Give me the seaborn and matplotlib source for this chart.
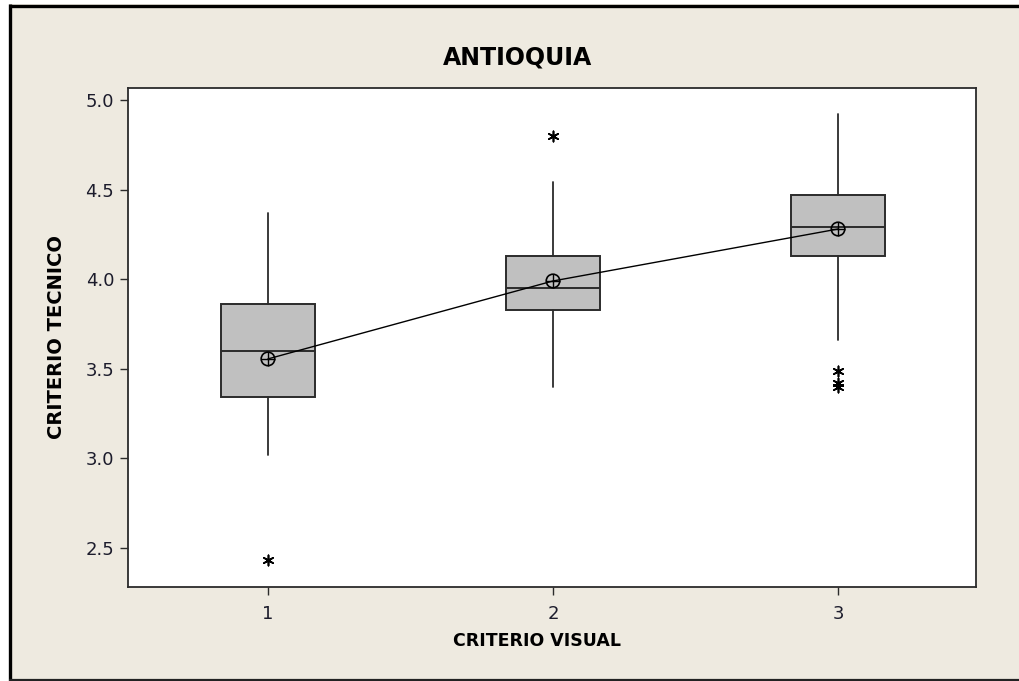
import matplotlib
matplotlib.use("Agg")
import matplotlib.pyplot as plt
import seaborn as sns
import pandas as pd
from matplotlib.lines import Line2D
from matplotlib.patches import Rectangle

# ---- data ----
groups = [1, 2, 3]
whisker_low = [3.02, 3.40, 3.66]
q1 = [3.34, 3.83, 4.13]
median = [3.60, 3.95, 4.29]
q3 = [3.86, 4.13, 4.47]
whisker_high = [4.37, 4.54, 4.92]
means = [3.555, 3.99, 4.28]
outlier_group = [1, 2, 3, 3, 3]
outlier_value = [2.43, 4.80, 3.49, 3.42, 3.40]
y_ticks = [2.5, 3.0, 3.5, 4.0, 4.5, 5.0]
x_ticks = [1, 2, 3]
title = "ANTIOQUIA"
x_label = "CRITERIO VISUAL"
y_label = "CRITERIO TECNICO"

sns.set_style("white")
plt.rcParams['font.family'] = ['DejaVu Sans']

W, H = 1020, 681
fig = plt.figure(figsize=(W / 100, H / 100), dpi=100)
bg = '#EEEAE0'
fig.patch.set_facecolor(bg)

ax = fig.add_axes([128 / W, 1 - 587 / H, (976 - 128) / W, (587 - 88) / H])
ax.set_facecolor('white')

edge = '#2b2b2b'
stats = [dict(whislo=wl, q1=a, med=m, q3=b, whishi=wh, fliers=[])
         for wl, a, m, b, wh in zip(whisker_low, q1, median, q3, whisker_high)]
ax.bxp(stats, positions=groups, widths=0.33, patch_artist=True,
       showcaps=False, showfliers=False, manage_ticks=False,
       boxprops=dict(facecolor='#C0C0C0', edgecolor=edge, linewidth=1.4),
       medianprops=dict(color=edge, linewidth=1.4),
       whiskerprops=dict(color=edge, linewidth=1.3))

mean_df = pd.DataFrame({"grupo": groups, "media": means})
sns.lineplot(data=mean_df, x="grupo", y="media", color='black', lw=1.0, ax=ax, zorder=4)
sns.scatterplot(data=mean_df, x="grupo", y="media", marker='o', s=95,
                facecolor='none', edgecolor='black', linewidth=1.2, ax=ax, zorder=5)
sns.scatterplot(data=mean_df, x="grupo", y="media", marker='+', s=95,
                color='black', linewidth=1.0, ax=ax, zorder=5)

out_df = pd.DataFrame({"grupo": outlier_group, "valor": outlier_value})
sns.scatterplot(data=out_df, x="grupo", y="valor", marker=(6, 2, 0), s=55,
                color='black', edgecolor='black', linewidth=1.2, ax=ax, zorder=5)

ax.set_xlim(0.509, 3.484)
ax.set_ylim(2.282, 5.067)
ax.set_xticks(x_ticks)
ax.set_xticklabels([str(t) for t in x_ticks])
ax.set_yticks(y_ticks)
ax.set_yticklabels([f"{t:.1f}" for t in y_ticks])
ax.tick_params(axis='both', direction='out', length=6, width=1.0, color=edge,
               labelsize=13, labelcolor='#1c1c2c', left=True, bottom=True, pad=4)
ax.tick_params(axis='x', pad=7)
ax.set_xlabel("")
ax.set_ylabel("")
for s in ax.spines.values():
    s.set_color(edge)
    s.set_linewidth(1.3)

fig.text(518 / W, 1 - 57 / H, title, ha='center', va='center',
         fontsize=17, fontweight='bold', color='black')
fig.text(537 / W, 1 - 641 / H, x_label, ha='center', va='center',
         fontsize=12.5, fontweight='bold', color='black')
fig.text(57 / W, 1 - 337 / H, y_label, ha='center', va='center', rotation=90,
         fontsize=14, fontweight='bold', color='black')

# window frame: white outer margin, then a thin black border
fig.add_artist(Rectangle((0, 0), 9 / W, 1, transform=fig.transFigure,
                         facecolor='white', edgecolor='none', zorder=-5))
fig.add_artist(Rectangle((0, 1 - 4 / H), 1, 4 / H, transform=fig.transFigure,
                         facecolor='white', edgecolor='none', zorder=-5))
fig.add_artist(Line2D([10.5 / W, 10.5 / W], [1 - 4 / H, 0], transform=fig.transFigure,
                      color='black', lw=2.4, solid_capstyle='butt'))
fig.add_artist(Line2D([9 / W, 1], [1 - 5.5 / H, 1 - 5.5 / H], transform=fig.transFigure,
                      color='black', lw=2.4, solid_capstyle='butt'))
fig.add_artist(Line2D([9 / W, 1], [1 - 680 / H, 1 - 680 / H], transform=fig.transFigure,
                      color='#222222', lw=1.6, solid_capstyle='butt'))

fig.savefig("out.png", dpi=100, facecolor=bg)
